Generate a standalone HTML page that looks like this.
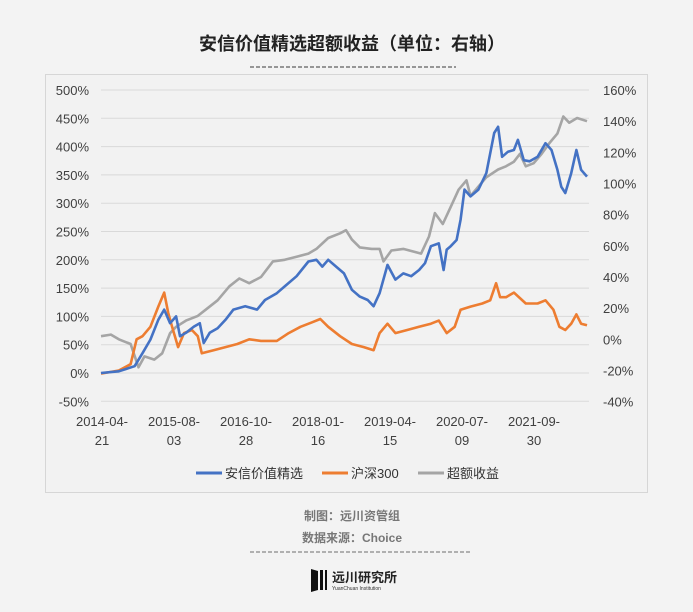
<!DOCTYPE html>
<html><head><meta charset="utf-8"><style>
body{margin:0;width:693px;height:607px;background:#f3f3f3;overflow:hidden;font-family:"Liberation Sans","Noto Sans CJK SC",sans-serif;}
</style></head><body>
<svg id="c" width="693" height="607" xmlns="http://www.w3.org/2000/svg">
<text x="352" y="50" text-anchor="middle" font-size="18" font-weight="bold" fill="#222" font-family="Liberation Sans,Noto Sans CJK SC,sans-serif">安信价值精选超额收益（单位：右轴）</text>
<line x1="250" y1="67" x2="456" y2="67" stroke="#777" stroke-width="1.5" stroke-dasharray="4,2"/>
<rect x="45.5" y="74.5" width="602" height="418" fill="#f2f2f2" stroke="#d6d6d6"/>
<g id="grid"></g><g id="axes"></g><g id="series"></g>
<g font-size="13" fill="#333" font-family="Liberation Sans,Noto Sans CJK SC,sans-serif">
<line x1="196" y1="473" x2="222" y2="473" stroke="#4472c4" stroke-width="3"/><text x="225" y="478">安信价值精选</text>
<line x1="322" y1="473" x2="348" y2="473" stroke="#ed7d31" stroke-width="3"/><text x="351" y="478">沪深300</text>
<line x1="418" y1="473" x2="444" y2="473" stroke="#a5a5a5" stroke-width="3"/><text x="447" y="478">超额收益</text>
</g>
<text x="352" y="520" text-anchor="middle" font-size="12" font-weight="bold" fill="#777" font-family="Liberation Sans,Noto Sans CJK SC,sans-serif">制图：远川资管组</text>
<text x="352" y="542" text-anchor="middle" font-size="12" font-weight="bold" fill="#777" font-family="Liberation Sans,Noto Sans CJK SC,sans-serif">数据来源：Choice</text>
<line x1="250" y1="552" x2="472" y2="552" stroke="#888" stroke-width="1.2" stroke-dasharray="4,2"/>
<g>
<polygon points="311,569 318,571 318,590 311,592" fill="#111"/>
<rect x="320" y="570" width="3" height="20" fill="#111"/><rect x="325" y="570" width="2" height="20" fill="#111"/>
<text x="332" y="582" font-size="13" font-weight="bold" fill="#222" font-family="Liberation Sans,Noto Sans CJK SC,sans-serif">远川研究所</text>
<text x="332" y="590" font-size="5" fill="#333">YuanChuan Institution</text>
</g>
</svg>
<script>
const xLabelsTop=["2014-04-","2015-08-","2016-10-","2018-01-","2019-04-","2020-07-","2021-09-"];
const xLabelsBot=["21","03","28","16","15","09","30"];
const leftTicks=[500,450,400,350,300,250,200,150,100,50,0,-50];
const rightTicks=[160,140,120,100,80,60,40,20,0,-20,-40];
const blueT=[0,45,85,105,125,145,160,175,190,200,215,235,250,260,275,295,315,335,365,395,415,445,465,495,525,545,560,575,595,615,635,655,675,690,705,725,745,765,785,805,820,835,855,867,875,885,900,910,920,935,955,975,995,1005,1015,1030,1045,1055,1070,1085,1105,1125,1140,1155,1165,1175,1190,1203,1215,1230];
const blueV=[0,3,12,35,59,94,112,88,100,65,71,82,88,53,71,79,94,112,118,112,129,141,153,171,197,200,188,200,188,176,147,135,129,118,141,191,165,176,171,182,194,224,229,182,218,224,235,271,324,312,324,353,424,435,382,391,394,412,376,374,382,406,394,359,329,318,353,394,359,347];
const orangeT=[0,45,75,90,105,125,145,160,170,180,195,210,230,245,255,285,315,345,375,405,445,475,505,535,555,575,605,635,665,690,705,725,745,775,805,835,855,875,895,910,935,965,985,1000,1010,1025,1045,1075,1105,1125,1145,1160,1175,1190,1203,1215,1230];
const orangeV=[-22,-20,-16,0,2,8,21,30,17,8,-5,4,6,2,-9,-7,-5,-3,0,-1,-1,4,8,11,13,8,2,-3,-5,-7,4,10,4,6,8,10,12,4,8,19,21,23,25,36,27,27,30,23,23,25,19,8,6,10,16,10,9];
const grayT=[0,25,45,75,95,110,135,155,175,190,215,245,265,295,325,350,375,405,435,465,495,525,545,575,605,620,635,655,685,705,715,735,765,795,810,830,845,865,885,905,925,935,955,975,1005,1025,1045,1060,1075,1095,1115,1135,1155,1170,1185,1205,1230];
const grayV=[2,3,0,-3,-18,-11,-13,-9,4,8,12,15,19,25,34,39,36,40,50,51,53,55,58,65,68,70,64,59,58,58,50,57,58,56,55,66,81,74,85,96,102,92,98,104,109,111,114,119,111,113,119,126,132,143,139,142,140];
const X0=101,X1=589,T1=1235;
const xS=t=>X0+t/T1*(X1-X0);
const yL=v=>373-v*(373-90)/500;
const yR=v=>339.3-v*(339.3-90)/160;
const NS="http://www.w3.org/2000/svg";
function mk(tag,attrs,parent){const e=document.createElementNS(NS,tag);for(const k in attrs)e.setAttribute(k,attrs[k]);parent.appendChild(e);return e;}
const grid=document.getElementById('grid'),axes=document.getElementById('axes'),ser=document.getElementById('series');
const F='Liberation Sans,sans-serif';
leftTicks.forEach(v=>{
 const l=mk('line',{x1:X0,x2:X1,y1:yL(v),y2:yL(v),stroke:'#d9d9d9','stroke-width':1},grid);
 
 
 const t=mk('text',{x:89,y:yL(v)+5,'text-anchor':'end','font-size':13,fill:'#404040','font-family':F},axes);t.textContent=v+'%';
 
 
});
rightTicks.forEach(v=>{
 const t=mk('text',{x:603,y:yR(v)+5,'font-size':13,fill:'#404040','font-family':F},axes);t.textContent=v+'%';
 
 
});
xLabelsTop.forEach((s,i)=>{
 const x=102+i*72;
 const t=mk('text',{x:x,y:426,'text-anchor':'middle','font-size':13,fill:'#404040','font-family':F},axes);t.textContent=s;
 
 
 const b=mk('text',{x:x,y:445,'text-anchor':'middle','font-size':13,fill:'#404040','font-family':F},axes);b.textContent=xLabelsBot[i];
 
 
});
function line(T,V,ys,color,name){
 const d=T.map((t,i)=>(i?'L':'M')+xS(t).toFixed(1)+','+ys(V[i]).toFixed(1)).join('');
 const p=mk('path',{d:d,fill:'none',stroke:color,'stroke-width':2.6,'stroke-linejoin':'round'},ser);
 
 
}
line(grayT,grayV,yR,'#a5a5a5','excess-return-line');
line(orangeT,orangeV,yR,'#ed7d31','csi300-line');
line(blueT,blueV,yL,'#4472c4','fund-line');
</script>
</body></html>
